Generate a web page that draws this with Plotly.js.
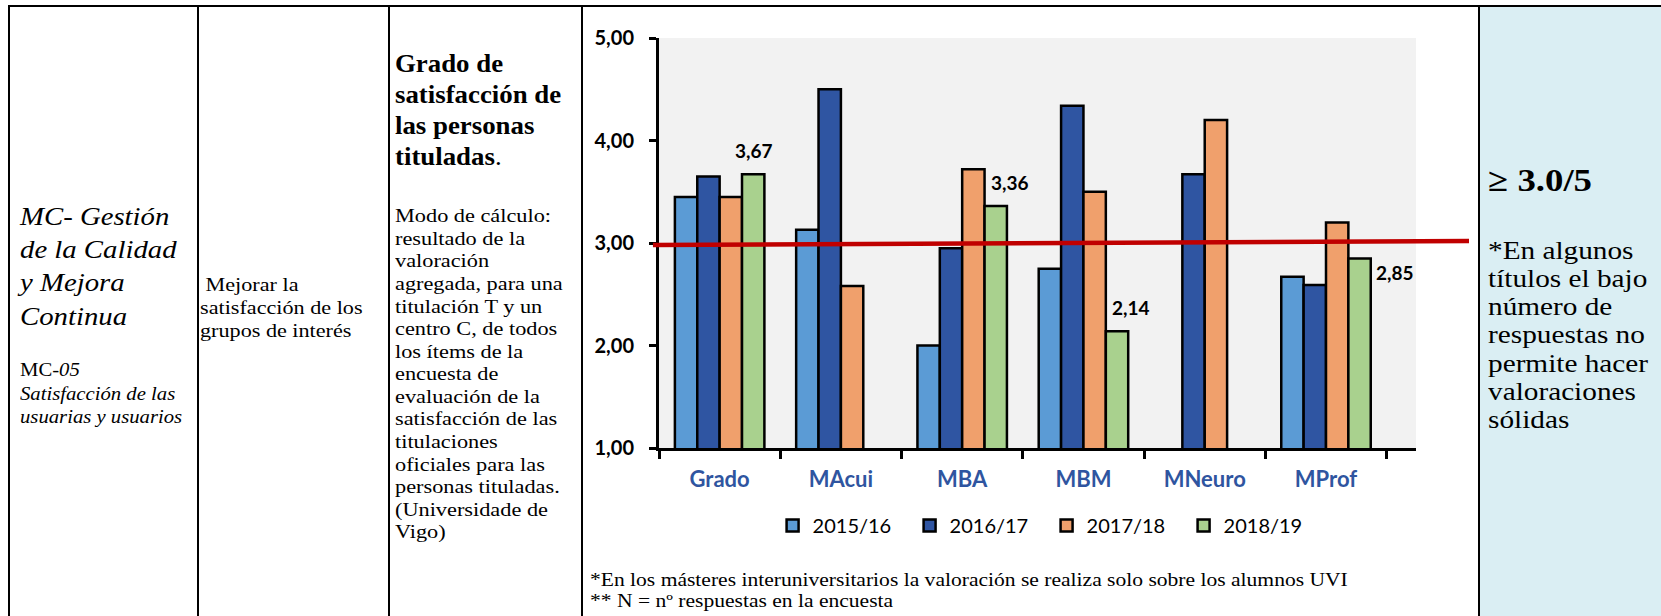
<!DOCTYPE html>
<html><head><meta charset="utf-8">
<script src="https://cdn.plot.ly/plotly-3.0.1.min.js"></script>
<style>
html,body{margin:0;padding:0;background:#fff;}
#page{position:relative;width:1661px;height:616px;overflow:hidden;background:#fff;}
.ln{position:absolute;background:#000;}
.tx{position:absolute;white-space:nowrap;transform-origin:0 0;font-family:"Liberation Serif","Times New Roman",serif;color:#000;}
#chart{position:absolute;left:583px;top:0;width:894px;height:616px;}
</style></head><body>
<div id="page">
  <div style="position:absolute;left:1480px;top:7px;width:181px;height:609px;background:#DAEEF3"></div>
  <div class="ln" style="left:8px;top:5px;width:1653px;height:2px"></div>
  <div class="ln" style="left:8px;top:5px;width:2px;height:611px"></div>
  <div class="ln" style="left:197px;top:5px;width:2px;height:611px"></div>
  <div class="ln" style="left:388px;top:5px;width:2px;height:611px"></div>
  <div class="ln" style="left:581px;top:5px;width:2px;height:611px"></div>
  <div class="ln" style="left:1478px;top:5px;width:2px;height:611px"></div>
  <div id="chart"></div>
</div>
<script>
// ---------- data ----------
const categories = ['Grado', 'MAcui', 'MBA', 'MBM', 'MNeuro', 'MProf'];
const seriesNames = ['2015/16', '2016/17', '2017/18', '2018/19'];
const v2015_16 = [3.45, 3.13, 2.00, 2.75, null, 2.67];
const v2016_17 = [3.65, 4.50, 2.95, 4.34, 3.67, 2.59];
const v2017_18 = [3.45, 2.58, 3.72, 3.50, 4.20, 3.20];
const v2018_19 = [3.67, null, 3.36, 2.14, null, 2.85];
const targetValues = [2.98, 3.02];          // drawn target line (≈ 3,0)
const yTickValues = [1, 2, 3, 4, 5];

// ---------- texts ----------
const col1Title = ['MC- Gestión', 'de la Calidad', 'y Mejora', 'Continua'];
const col1Sub = ['MC<i>-05</i>', '<i>Satisfacción de las</i>', '<i>usuarias y usuarios</i>'];
const col2Text = ['&nbsp;Mejorar la', 'satisfacción de los', 'grupos de interés'];
const col3Title = ['<b>Grado de</b>', '<b>satisfacción de</b>', '<b>las personas</b>', '<b>tituladas</b>.'];
const col3Body = ['Modo de cálculo:', 'resultado de la', 'valoración', 'agregada, para una',
  'titulación T y un', 'centro C, de todos', 'los ítems de la', 'encuesta de',
  'evaluación de la', 'satisfacción de las', 'titulaciones', 'oficiales para las',
  'personas tituladas.', '(Universidade de', 'Vigo)'];
const chartNotes = ['*En los másteres interuniversitarios la valoración se realiza solo sobre los alumnos UVI',
  '** N = nº respuestas en la encuesta'];
const col4Title = ['<b>≥ 3.0/5</b>'];
const col4Body = ['*En algunos', 'títulos el bajo', 'número de', 'respuestas no', 'permite hacer', 'valoraciones', 'sólidas'];

// ---------- html text blocks ----------
const page = document.getElementById('page');
function place(b) {
  const d = document.createElement('div');
  d.className = 'tx';
  const asc = 0.891, desc = 0.216;
  const half = (b.lh - (asc + desc) * b.size) / 2;
  d.style.left = b.x + 'px';
  d.style.top = (b.baseline - half - asc * b.size) + 'px';
  d.style.fontSize = b.size + 'px';
  d.style.lineHeight = b.lh + 'px';
  if (b.italic) d.style.fontStyle = 'italic';
  d.style.transform = 'scaleX(' + b.sx + ')';
  d.innerHTML = b.lines.join('<br>');
  page.appendChild(d);
}
place({x: 20, baseline: 225, size: 25, lh: 33.2, sx: 1.15, italic: true, lines: col1Title});
place({x: 20, baseline: 377, size: 18, lh: 23.4, sx: 1.15, lines: col1Sub});
place({x: 200, baseline: 292, size: 19.3, lh: 22.8, sx: 1.15, lines: col2Text});
place({x: 395, baseline: 71.7, size: 25.2, lh: 31.1, sx: 1.065, lines: col3Title});
place({x: 395, baseline: 223, size: 19.4, lh: 22.6, sx: 1.15, lines: col3Body});
place({x: 590, baseline: 587, size: 18.4, lh: 21.2, sx: 1.172, lines: chartNotes});
place({x: 1488, baseline: 191, size: 32, lh: 36, sx: 1.15, lines: col4Title});
place({x: 1488, baseline: 259.5, size: 24.4, lh: 28.1, sx: 1.2, lines: col4Body});

// ---------- chart ----------
const colors = ['#5B9BD5', '#2F55A2', '#F0A06C', '#A9D18E'];
const seriesValues = [v2015_16, v2016_17, v2017_18, v2018_19];
const traces = seriesValues.map((vals, i) => ({
  type: 'bar', name: seriesNames[i], x: categories, y: vals,
  marker: {color: colors[i], line: {color: '#000', width: 2.5}},
  hoverinfo: 'skip'
}));

// data labels for the last series (offsets in px, style only)
const labelShift = {Grado: [34, 24], MBA: [48, 24], MBM: [48, 24], MProf: [69, -14]};
const annotations = [];
v2018_19.forEach((v, i) => {
  if (v === null) return;
  const s = labelShift[categories[i]] || [0, 20];
  annotations.push({
    x: categories[i], y: v, xref: 'x', yref: 'y', showarrow: false,
    text: v.toFixed(2).replace('.', ','), xshift: s[0], yshift: s[1],
    font: {family: 'Lato', size: 19, color: '#000', weight: 'bold'}
  });
});

const layout = {
  width: 894, height: 616,
  margin: {l: 76, r: 61, t: 38, b: 168},
  paper_bgcolor: 'rgba(0,0,0,0)', plot_bgcolor: '#F2F2F2',
  separators: ',.',
  barmode: 'group', bargap: 0.262, bargroupgap: 0,
  showlegend: true,
  legend: {orientation: 'h', x: 0.512, xanchor: 'center', y: -0.189, yanchor: 'middle',
    entrywidth: 92, entrywidthmode: 'pixels',
    font: {family: 'Lato', size: 20, color: '#000'}, bgcolor: 'rgba(0,0,0,0)', traceorder: 'normal'},
  xaxis: {type: 'category', showline: true, linecolor: '#000', linewidth: 3,
    ticks: 'outside', tickson: 'boundaries', ticklen: 8, tickwidth: 3, tickcolor: '#000',
    ticklabelstandoff: 10,
    tickfont: {family: 'Lato', size: 22, color: '#2F55A0', weight: 'bold'},
    showgrid: false, zeroline: false, fixedrange: true},
  yaxis: {range: [1, 5], tickvals: yTickValues, tickformat: '.2f',
    showline: true, linecolor: '#000', linewidth: 3,
    ticks: 'outside', ticklen: 7, tickwidth: 3, tickcolor: '#000',
    ticklabelstandoff: 11,
    tickfont: {family: 'Lato', size: 20, color: '#000', weight: 'bold'},
    showgrid: false, zeroline: false, fixedrange: true},
  shapes: [{type: 'line', xref: 'paper', yref: 'y', x0: -0.008, x1: 1.07,
    y0: targetValues[0], y1: targetValues[1], layer: 'above',
    line: {color: '#C00000', width: 4.5}}],
  annotations: annotations
};
Plotly.newPlot('chart', traces, layout, {displayModeBar: false, staticPlot: true});
</script>
</body></html>
